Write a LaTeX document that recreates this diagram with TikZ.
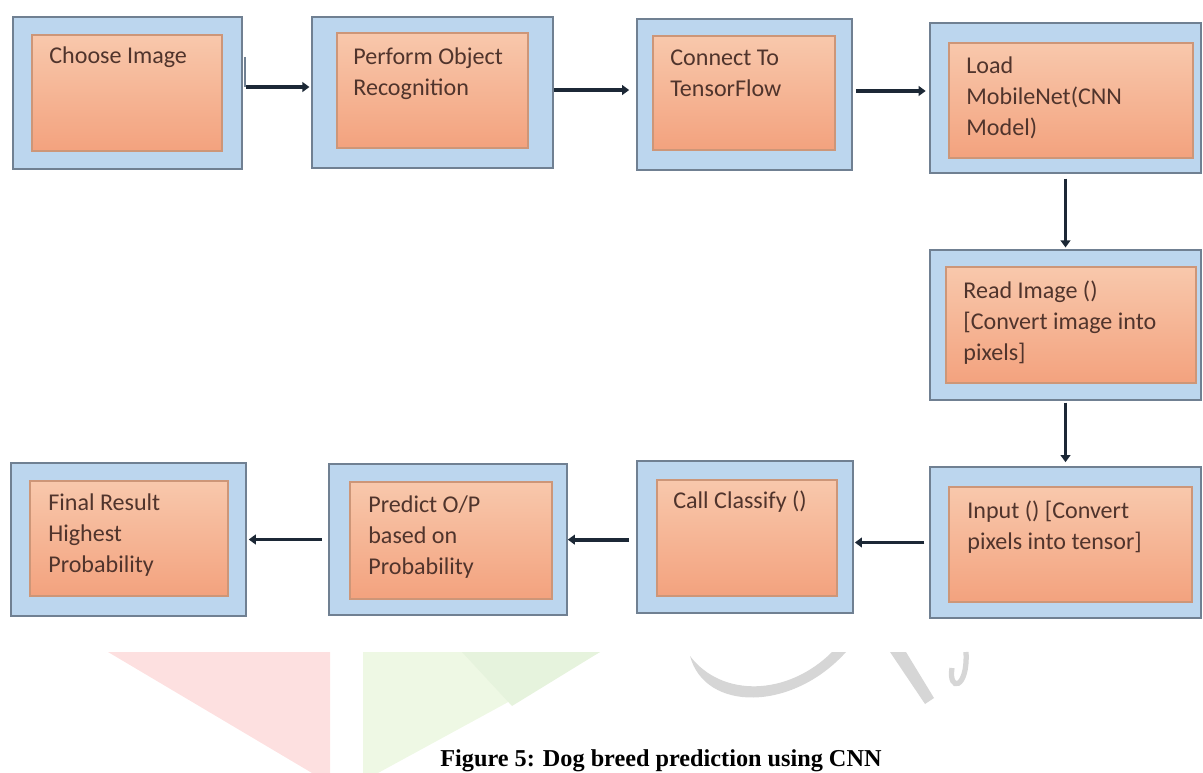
\documentclass[tikz,border=0pt]{standalone}
\usepackage{fontspec}
\setmainfont{Carlito}
\newfontfamily\capfont{Liberation Serif}
\usetikzlibrary{arrows.meta,fit}

\definecolor{boxblue}{RGB}{188,214,238}
\definecolor{boxline}{RGB}{112,128,146}
\definecolor{salmontop}{RGB}{248,200,172}
\definecolor{salmonbot}{RGB}{243,162,126}
\definecolor{salmonline}{RGB}{205,150,120}
\definecolor{inktext}{RGB}{80,52,44}
\definecolor{arrowink}{RGB}{28,40,54}
\definecolor{markpink}{RGB}{253,224,224}
\definecolor{markgreen}{RGB}{238,248,228}
\definecolor{markgreen2}{RGB}{230,243,221}
\definecolor{markgray}{RGB}{214,214,214}

\tikzset{
  outerbox/.style={draw=boxline, fill=boxblue, line width=0.9pt, inner sep=0pt},
  innerbox/.style={draw=salmonline, top color=salmontop, bottom color=salmonbot, line width=0.6pt, inner sep=0pt},
  boxtext/.style={anchor=north west, inner sep=0pt, align=left, text=inktext, font=\fontsize{13.7}{17.6}\selectfont},
  flow/.style={draw=arrowink, line width=2.2pt, -{Triangle[length=4pt,width=5.5pt]}},
}

\begin{document}
\begin{tikzpicture}[x=0.02cm, y=-0.02cm]
    \useasboundingbox (0,0) rectangle (1203,773);
    \clip (0,0) rectangle (1203,773);

    % watermark in the back
    \fill[markpink] (108,652) -- (330,652) -- (330,773) -- (312,773) -- cycle;
    \fill[markgreen] (363,652) -- (600,652) -- (378,773) -- (363,773) -- cycle;
    \fill[markgreen2] (462,652) -- (600,652) -- (512,706) -- cycle;
    \fill[markgray] (690,656) .. controls (705,712) and (792,712) .. (846,652)
        -- (832,652) .. controls (788,696) and (722,698) .. (690,656) -- cycle;
    \fill[markgray] (890,652) -- (906,652) -- (934,698) -- (925,704) -- cycle;
    \draw[markgray, line width=3pt] (966,652) .. controls (968,690) and (948,692) .. (952,668);

    % top row
    \node[outerbox, fit={(13,17) (242,169)}] (choose) {};
    \node[innerbox, fit={(32,35) (222,151)}] (choose-in) {};
    \node[boxtext] (choose-t) at (49,42) {\strut Choose Image};

    \node[outerbox, fit={(312,17) (553,168)}] (perform) {};
    \node[innerbox, fit={(337,33) (528,148)}] (perform-in) {};
    \node[boxtext] (perform-t) at (353,43) {\strut Perform Object\\Recognition};

    \node[outerbox, fit={(637,19) (852,170)}] (tensor) {};
    \node[innerbox, fit={(653,36) (835,150)}] (tensor-in) {};
    \node[boxtext] (tensor-t) at (670,44) {\strut Connect To\\TensorFlow};

    \node[outerbox, fit={(930,23) (1201,173)}] (mobilenet) {};
    \node[innerbox, fit={(949,43) (1193,158)}] (mobilenet-in) {};
    \node[boxtext] (mobilenet-t) at (966,52) {\strut Load\\MobileNet(CNN\\Model)};

    % right column
    \node[outerbox, fit={(930,250) (1201,400)}] (readimg) {};
    \node[innerbox, fit={(946,267) (1196,383)}] (readimg-in) {};
    \node[boxtext] (readimg-t) at (963,277) {\strut Read Image ()\\{[}Convert image into\\pixels{]}};

    % bottom row
    \node[outerbox, fit={(930,467) (1201,618)}] (input) {};
    \node[innerbox, fit={(949,487) (1192,602)}] (input-in) {};
    \node[boxtext] (input-t) at (967,497) {\strut Input () [Convert\\pixels into tensor]};

    \node[outerbox, fit={(637,461) (853,613)}] (classify) {};
    \node[innerbox, fit={(657,480) (837,596)}] (classify-in) {};
    \node[boxtext] (classify-t) at (673,487) {\strut Call Classify ()};

    \node[outerbox, fit={(329,464) (567,615)}] (predict) {};
    \node[innerbox, fit={(350,482) (552,599)}] (predict-in) {};
    \node[boxtext] (predict-t) at (368,491) {\strut Predict O/P\\based on\\Probability};

    \node[outerbox, fit={(11,463) (246,616)}] (final) {};
    \node[innerbox, fit={(30,481) (228,596)}] (final-in) {};
    \node[boxtext] (final-t) at (48,489) {\strut Final Result\\Highest\\Probability};

    % connectors
    \draw[boxline, line width=1pt] (245,57) -- (245,87);
    \draw[flow, shorten <=1.7pt, shorten >=1pt] ([yshift=3.4pt]choose.east) -- ([yshift=3.4pt]choose.east -| perform.west);
    \draw[flow, shorten >=4pt] ([yshift=1.4pt]perform.east) -- ([yshift=1.4pt]perform.east -| tensor.west);
    \draw[flow, shorten <=1.7pt, shorten >=2pt] ([yshift=2pt]tensor.east) -- ([yshift=2pt]tensor.east -| mobilenet.west);
    \draw[flow, shorten <=2.8pt, shorten >=1pt] (mobilenet.south) -- (readimg.north);
    \draw[flow, shorten <=1pt, shorten >=2.3pt] (readimg.south) -- (input.north);
    \draw[flow, shorten <=2.8pt, shorten >=0.6pt] (input.west) -- (input.west -| classify.east);
    \draw[flow, shorten <=4pt] ([yshift=-1.5pt]classify.west) -- ([yshift=-1.5pt]classify.west -| predict.east);
    \draw[flow, shorten <=3.4pt, shorten >=1.1pt] (predict.west) -- (predict.west -| final.east);

    \node[anchor=base west, inner sep=0pt, font=\capfont\bfseries\fontsize{13.8}{16}\selectfont] (caption) at (440,766) {Figure 5: Dog breed prediction using CNN};
\end{tikzpicture}
\end{document}
